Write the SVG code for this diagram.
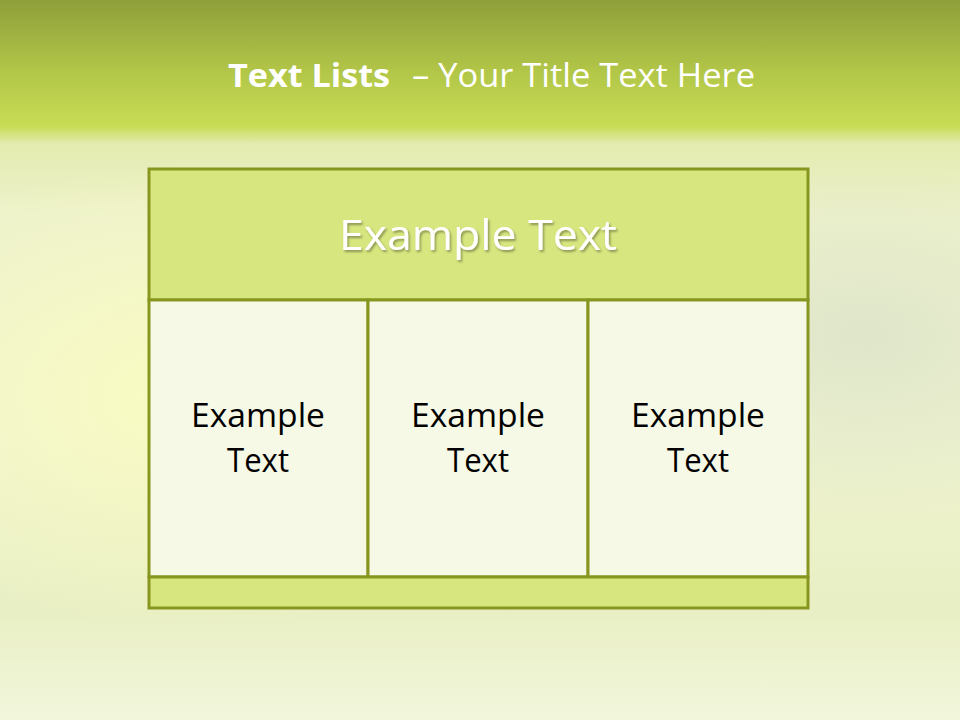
<svg xmlns="http://www.w3.org/2000/svg" width="960" height="720" viewBox="0 0 960 720">
<defs>
<linearGradient id="bg" x1="0" y1="0" x2="0" y2="1">
<stop offset="0" stop-color="#8e9f3a"/>
<stop offset="0.1" stop-color="#b2c648"/>
<stop offset="0.175" stop-color="#c9dc55"/>
<stop offset="0.2" stop-color="#e4ebb0"/>
<stop offset="0.3" stop-color="#eef2cc"/>
<stop offset="0.6" stop-color="#eef3cf"/>
<stop offset="0.85" stop-color="#e9efc4"/>
<stop offset="1" stop-color="#f2f6dc"/>
</linearGradient>
<radialGradient id="glow" cx="0.2" cy="0.45" r="0.4">
<stop offset="0" stop-color="#fbfcc0" stop-opacity="0.9"/>
<stop offset="1" stop-color="#fbfcc0" stop-opacity="0"/>
</radialGradient>
<radialGradient id="glow2" cx="0.9" cy="0.35" r="0.3">
<stop offset="0" stop-color="#d8e0c8" stop-opacity="0.7"/>
<stop offset="1" stop-color="#d8e0c8" stop-opacity="0"/>
</radialGradient>
<filter id="sh" x="-10%" y="-20%" width="120%" height="140%">
<feDropShadow dx="1.5" dy="2" stdDeviation="1.2" flood-color="#000" flood-opacity="0.35"/>
</filter>
<style>
.cell{stroke:#87961f;stroke-width:3}
.hd{fill:#d7e67f}
.bd{fill:#f6f9e6}
.t{font-family:"Open Sans","Noto Sans","Liberation Sans",sans-serif;text-anchor:middle}
.ct{font-size:32px;fill:#000}
.tt{font-family:"Open Sans","Noto Sans",sans-serif;font-size:32px;fill:#ffffff}
</style>
</defs>
<rect width="960" height="720" fill="url(#bg)"/>
<rect y="130" width="960" height="590" fill="url(#glow)"/>
<rect y="130" width="960" height="590" fill="url(#glow2)"/>
<g id="title">
<text class="tt" x="228" y="87" font-weight="bold" textLength="162" lengthAdjust="spacingAndGlyphs">Text Lists</text>
<text class="tt" x="412" y="87" textLength="343" lengthAdjust="spacingAndGlyphs">– Your Title Text Here</text>
</g>
<g id="header">
<rect class="cell hd" x="149" y="169" width="659" height="131"/>
<text class="t" x="478" y="250" font-size="42" fill="#ffffff" filter="url(#sh)" textLength="278" lengthAdjust="spacingAndGlyphs">Example Text</text>
</g>
<g id="col1">
<rect class="cell bd" x="149" y="300" width="219" height="277"/>
<text class="t ct" x="258" y="427" textLength="134" lengthAdjust="spacingAndGlyphs">Example</text>
<text class="t ct" x="258" y="472" textLength="62" lengthAdjust="spacingAndGlyphs">Text</text>
</g>
<g id="col2">
<rect class="cell bd" x="368" y="300" width="220" height="277"/>
<text class="t ct" x="478" y="427" textLength="134" lengthAdjust="spacingAndGlyphs">Example</text>
<text class="t ct" x="478" y="472" textLength="62" lengthAdjust="spacingAndGlyphs">Text</text>
</g>
<g id="col3">
<rect class="cell bd" x="588" y="300" width="220" height="277"/>
<text class="t ct" x="698" y="427" textLength="134" lengthAdjust="spacingAndGlyphs">Example</text>
<text class="t ct" x="698" y="472" textLength="62" lengthAdjust="spacingAndGlyphs">Text</text>
</g>
<g id="footer">
<rect class="cell hd" x="149" y="577" width="659" height="31"/>
</g>
<g id="connectors"/>
</svg>
